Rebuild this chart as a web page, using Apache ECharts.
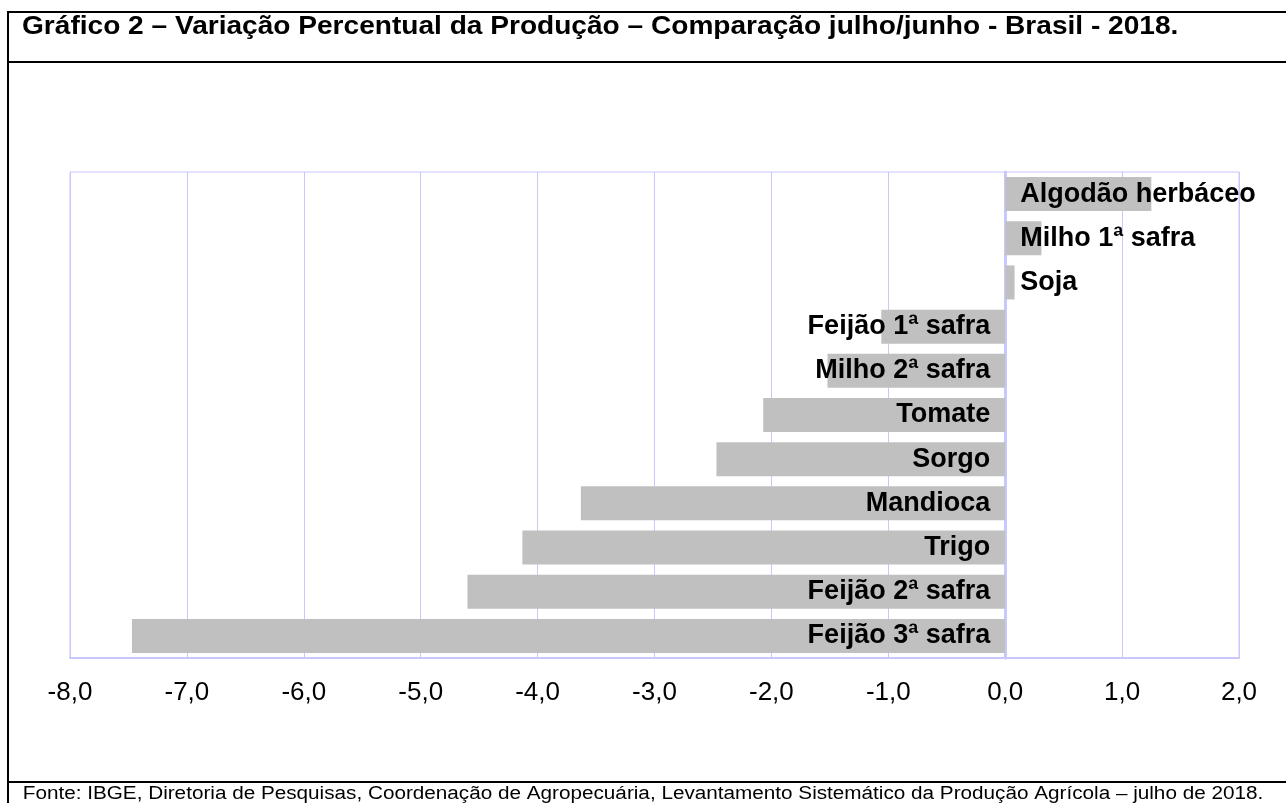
<!DOCTYPE html>
<html>
<head>
<meta charset="utf-8">
<script src="https://cdn.jsdelivr.net/npm/echarts@6/dist/echarts.min.js"></script>
<style>
  html, body { margin: 0; padding: 0; background: #fff; }
  #chart { width: 1286px; height: 803px; }
</style>
</head>
<body>
<div id="chart"></div>
<script>
const categories = [
  "Feijão 3ª safra", "Feijão 2ª safra", "Trigo", "Mandioca", "Sorgo", "Tomate",
  "Milho 2ª safra", "Feijão 1ª safra", "Soja", "Milho 1ª safra", "Algodão herbáceo"
];
const variacao = [-7.47, -4.60, -4.13, -3.63, -2.47, -2.07, -1.52, -1.06, 0.08, 0.31, 1.25];

const titleText = "Gráfico 2 – Variação Percentual da Produção – Comparação julho/junho - Brasil - 2018.";
const fonteText = "Fonte: IBGE, Diretoria de Pesquisas, Coordenação de Agropecuária, Levantamento Sistemático da Produção Agrícola – julho de 2018.";

const grid = "#c8c8ff";

const chart = echarts.init(document.getElementById("chart"));

chart.setOption({
  animation: false,
  grid: {
    left: 70, right: 47, top: 172, bottom: 145,
    show: true, borderColor: grid, borderWidth: 1
  },
  xAxis: {
    type: "value",
    min: -8, max: 2, interval: 1,
    axisLine: { show: true, lineStyle: { color: grid, width: 2 } },
    axisTick: { show: false },
    splitLine: { lineStyle: { color: grid, width: 1 } },
    axisLabel: {
      margin: 22,
      fontSize: 26,
      color: "#000",
      fontFamily: "Liberation Sans, Arial",
      formatter: v => v.toFixed(1).replace(".", ",")
    }
  },
  yAxis: {
    type: "category",
    data: categories,
    axisLine: { show: true, onZero: true, lineStyle: { color: grid, width: 3 } },
    axisTick: { show: false },
    axisLabel: { show: false },
    splitLine: { show: false }
  },
  series: [{
    type: "bar",
    barCategoryGap: "23%",
    itemStyle: { color: "#c0c0c0" },
    data: variacao.map(v => ({
      value: v,
      label: { position: v < 0 ? "insideRight" : "insideLeft" }
    })),
    label: {
      show: true,
      formatter: "{b}",
      distance: 15,
      fontSize: 27,
      fontWeight: "bold",
      color: "#000",
      fontFamily: "Liberation Sans, Arial"
    }
  }],
  graphic: [
    { type: "rect", shape: { x: 7, y: 11, width: 2, height: 792 }, style: { fill: "#000" } },
    { type: "rect", shape: { x: 7, y: 11, width: 1279, height: 2 }, style: { fill: "#000" } },
    { type: "rect", shape: { x: 7, y: 61, width: 1279, height: 2 }, style: { fill: "#000" } },
    { type: "rect", shape: { x: 7, y: 781, width: 1279, height: 2 }, style: { fill: "#000" } },
    {
      type: "text", x: 22, y: 27, scaleX: 1.08,
      style: {
        text: titleText, fill: "#000",
        font: "bold 26px 'Liberation Sans', Arial",
        align: "left", verticalAlign: "middle"
      }
    },
    {
      type: "text", x: 643, y: 794, scaleX: 1.15,
      style: {
        text: fonteText, fill: "#000",
        font: "18px 'Liberation Sans', Arial",
        align: "center", verticalAlign: "middle"
      }
    }
  ]
});
</script>
</body>
</html>
